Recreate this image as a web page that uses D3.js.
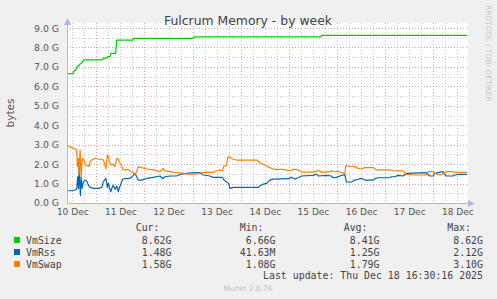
<!DOCTYPE html>
<html><head><meta charset="utf-8">
<script src="https://cdn.jsdelivr.net/npm/d3@7"></script>
<style>
html,body{margin:0;padding:0;background:#F0F0F0;}
svg{display:block;}
</style></head>
<body>
<svg id="c" width="497" height="299"></svg>
<script>
// ---- data (time = hours after 2025-12-10 00:00, values in GB) ----
const title = "Fulcrum Memory - by week";
const seriesNames = ["VmSize", "VmRss", "VmSwap"];
const seriesColors = ["#00CC00", "#0066B3", "#FF8000"];
const yTickValues = [0,1,2,3,4,5,6,7,8,9];
const dayLabels = ["10 Dec","11 Dec","12 Dec","13 Dec","14 Dec","15 Dec","16 Dec","17 Dec","18 Dec"];
const statHeaders = ["Cur:", "Min:", "Avg:", "Max:"];
const statsVmSize = ["8.62G", "6.66G", "8.41G", "8.62G"];
const statsVmRss  = ["1.48G", "41.63M", "1.25G", "2.12G"];
const statsVmSwap = ["1.58G", "1.08G", "1.79G", "3.10G"];
const lastUpdate = "Last update: Thu Dec 18 16:30:16 2025";

const sizeT = [9.4,12.4,12.9,13.8,14.5,15.4,15.9,16.9,17.7,26.8,27.3,29.2,29.7,30.8,31.3,33.6,34.2,42.1,42.8,72.3,72.8,135.9,136.4,208.8];
const sizeV = [6.66,6.66,6.80,6.85,7.03,7.08,7.15,7.22,7.36,7.36,7.45,7.45,7.53,7.53,7.70,7.70,8.38,8.38,8.47,8.47,8.55,8.55,8.62,8.62];

const rssT = [9.4,11.7,13.4,14.2,14.7,15.1,15.4,15.7,16.1,16.4,16.9,17.6,18.4,19.2,20.0,20.9,22.5,25.0,26.7,27.5,28.8,29.5,30.0,30.5,31.2,31.7,32.5,33.3,34.2,35.0,35.5,36.1,37.1,38.3,40.0,41.6,42.5,43.3,44.1,44.9,46.6,49.1,52.4,55.7,57.1,58.2,60.7,64.0,66.5,69.0,72.3,75.7,77.3,80.6,82.3,86.9,87.6,89.9,90.6,92.3,95.6,104.7,105.5,107.2,108.9,110.5,112.2,119.6,121.3,123.0,124.6,126.3,132.1,133.8,134.6,138.7,141.2,142.1,143.7,145.4,147.9,148.7,151.2,152.8,154.5,156.2,157.8,162.0,163.3,164.5,170.3,171.1,172.8,174.4,176.9,178.6,188.5,190.2,191.9,192.7,196.8,197.6,198.5,201.8,202.6,205.1,208.8];
const rssV = [0.63,0.63,0.67,0.70,1.35,0.75,1.90,1.01,0.38,1.35,0.75,1.10,1.18,1.13,0.92,0.80,0.75,0.75,0.80,1.10,1.27,0.80,1.01,0.80,0.58,0.75,0.92,0.70,0.87,0.58,0.80,0.92,1.22,1.25,1.25,1.32,1.44,1.52,1.35,1.18,1.18,1.27,1.32,1.39,1.25,1.35,1.39,1.39,1.49,1.52,1.56,1.56,1.44,1.39,1.32,1.32,1.18,1.01,0.75,0.80,0.80,0.80,0.87,0.97,1.01,1.18,1.23,1.25,1.32,1.23,1.30,1.39,1.42,1.49,1.39,1.42,1.39,1.30,1.32,1.39,1.46,1.08,1.08,1.18,1.22,1.27,1.18,1.18,1.27,1.30,1.30,1.35,1.35,1.42,1.39,1.52,1.56,1.39,1.39,1.52,1.61,1.49,1.39,1.39,1.44,1.47,1.47];

const swapT = [9.4,11.2,13.4,14.2,14.6,15.1,15.4,15.9,16.4,16.9,17.2,17.9,18.9,20.5,20.9,21.7,23.4,25.0,26.7,27.5,28.3,28.8,29.5,30.0,30.5,31.7,32.5,33.3,34.2,35.0,35.8,36.6,37.1,38.3,40.0,41.6,42.5,43.3,44.1,44.9,46.6,49.1,52.4,55.7,57.4,58.2,60.7,63.2,67.4,69.0,74.0,76.5,79.0,82.3,84.0,85.6,86.9,87.6,88.9,89.6,90.6,92.3,93.9,104.2,105.5,107.2,108.9,110.5,112.2,113.8,117.2,119.6,121.3,122.1,123.8,125.5,126.3,132.1,133.8,135.4,136.2,140.4,141.2,142.9,144.5,146.2,147.9,148.4,150.4,152.8,154.5,156.2,157.8,162.0,163.6,170.3,171.9,173.6,176.9,178.6,183.6,188.5,189.4,191.9,193.5,196.0,198.5,201.8,202.6,208.8];
const swapV = [2.97,2.86,2.79,2.73,1.87,2.30,1.44,2.73,1.35,2.13,2.30,2.18,1.92,1.90,2.13,2.21,2.30,2.25,2.25,2.21,1.95,1.75,2.47,2.38,2.13,1.95,2.00,1.87,2.30,2.25,2.04,1.95,1.73,1.70,1.70,1.61,1.56,1.47,1.61,1.87,1.82,1.75,1.70,1.61,1.78,1.65,1.61,1.56,1.54,1.49,1.49,1.56,1.59,1.58,1.66,1.70,1.66,1.90,1.92,2.38,2.35,2.25,2.21,2.21,2.07,1.99,1.90,1.82,1.75,1.73,1.73,1.68,1.66,1.73,1.73,1.65,1.59,1.59,1.65,1.65,1.58,1.61,1.66,1.61,1.63,1.56,1.52,1.92,1.89,1.87,1.78,1.75,1.82,1.82,1.70,1.70,1.66,1.65,1.65,1.47,1.44,1.44,1.61,1.61,1.49,1.44,1.61,1.61,1.58,1.58];

// ---- drawing ----
const svg = d3.select("#c");
const T0 = new Date(2025, 11, 10, 0, 0, 0).getTime();
const toDate = h => new Date(T0 + h * 3600e3);
const L = 67, R = 467, TOP = 23, BOT = 203;

const x = d3.scaleTime().domain([toDate(9.38), toDate(208.8)]).range([L, R]);
const y = d3.scaleLinear().domain([0, 9.26]).range([BOT, TOP]);

svg.append("rect").attr("x", L).attr("y", TOP).attr("width", R - L + 1).attr("height", BOT - TOP).attr("fill", "#fff");

const g = svg.append("g");
// minor grid
const minorY = d3.range(0.5, 9.26, 1);
g.selectAll(".my").data(minorY).join("line")
  .attr("x1", L).attr("x2", R).attr("y1", d => Math.round(y(d)) + 0.5).attr("y2", d => Math.round(y(d)) + 0.5)
  .attr("stroke", "#c8c8c8").attr("stroke-dasharray", "1,2");
const sixH = d3.timeHour.every(6).range(x.domain()[0], x.domain()[1]).filter(d => d.getHours() !== 0);
g.selectAll(".mx").data(sixH).join("line")
  .attr("y1", TOP).attr("y2", BOT).attr("x1", d => Math.round(x(d)) + 0.5).attr("x2", d => Math.round(x(d)) + 0.5)
  .attr("stroke", "#c8c8c8").attr("stroke-dasharray", "1,2");
// major grid
g.selectAll(".My").data(yTickValues.slice(1)).join("line")
  .attr("x1", L).attr("x2", R).attr("y1", d => Math.round(y(d)) + 0.5).attr("y2", d => Math.round(y(d)) + 0.5)
  .attr("stroke", "#e4a0a0").attr("stroke-dasharray", "1,2");
const days = d3.timeDay.range(x.domain()[0], x.domain()[1]);
g.selectAll(".Mx").data(days).join("line")
  .attr("y1", TOP).attr("y2", BOT + 1).attr("x1", d => Math.round(x(d)) + 0.5).attr("x2", d => Math.round(x(d)) + 0.5)
  .attr("stroke", "#e4a0a0").attr("stroke-dasharray", "1,2");

// axes labels
const yAxis = d3.axisLeft(y).tickValues(yTickValues).tickFormat(d => d.toFixed(1) + " G").tickSize(0).tickPadding(8);
const ya = svg.append("g").attr("transform", `translate(${L},0)`).call(yAxis);
ya.select(".domain").remove();
ya.selectAll("text").attr("font-family", "DejaVu Sans").attr("font-size", 9.3).attr("fill", "#555");

const noon = dayLabels.map((d, i) => toDate(i * 24 + 12));
const xAxis = d3.axisBottom(x).tickValues(noon).tickFormat((d, i) => dayLabels[i]).tickSize(0).tickPadding(6);
const xa = svg.append("g").attr("transform", `translate(0,${BOT})`).call(xAxis);
xa.select(".domain").remove();
xa.selectAll("text").attr("font-family", "DejaVu Sans").attr("font-size", 9).attr("fill", "#555");

// lines
const line = d3.line().x(d => x(toDate(d[0]))).y(d => y(d[1]));
const series = [
  d3.zip(sizeT, sizeV),
  d3.zip(rssT, rssV),
  d3.zip(swapT, swapV)
];
series.forEach((s, i) => {
  svg.append("path").datum(s).attr("d", line).attr("fill", "none")
    .attr("stroke", seriesColors[i]).attr("stroke-width", 1.2).attr("stroke-linejoin", "round");
});

// axis lines with arrows
const axc = "#b4b4ec";
svg.append("line").attr("x1", L + 0.5).attr("x2", L + 0.5).attr("y1", BOT).attr("y2", 20).attr("stroke", axc);
svg.append("line").attr("x1", L).attr("x2", 471).attr("y1", BOT + 0.5).attr("y2", BOT + 0.5).attr("stroke", axc);
svg.append("path").attr("d", `M${L - 3},${25}L${L + 0.5},${18}L${L + 4},${25}Z`).attr("fill", axc);
svg.append("path").attr("d", `M${468},${BOT - 3}L${475},${BOT + 0.5}L${468},${BOT + 4}Z`).attr("fill", axc);

// title & labels
svg.append("text").attr("x", 248).attr("y", 24.5).attr("text-anchor", "middle")
  .attr("font-family", "DejaVu Sans").attr("font-size", 12.4).attr("fill", "#444").text(title);
svg.append("text").attr("transform", "translate(13.5,113) rotate(-90)").attr("text-anchor", "middle")
  .attr("font-family", "DejaVu Sans").attr("font-size", 10.5).attr("fill", "#555").text("bytes");
svg.append("text").attr("transform", "translate(485.5,5) rotate(90)").attr("text-anchor", "start")
  .attr("font-family", "DejaVu Sans").attr("font-size", 7.5).attr("fill", "#c8c8c8").text("RRDTOOL / TOBI OETIKER");

// legend
const mono = "DejaVu Sans Mono";
const fs = 9.9;
const headerEnds = [159.5, 263.5, 367.5, 471];
const valueEnds = [171.5, 275.5, 379.5, 483];
statHeaders.forEach((h, i) => {
  svg.append("text").attr("x", headerEnds[i]).attr("y", 231).attr("text-anchor", "end")
    .attr("font-family", mono).attr("font-size", fs).attr("fill", "#444").text(h);
});
const allStats = [statsVmSize, statsVmRss, statsVmSwap];
seriesNames.forEach((n, r) => {
  const yy = 243.5 + r * 12;
  svg.append("rect").attr("x", 14).attr("y", yy - 6.5).attr("width", 6).attr("height", 6).attr("fill", seriesColors[r]);
  svg.append("text").attr("x", 26).attr("y", yy).attr("font-family", mono).attr("font-size", fs).attr("fill", "#444").text(n);
  allStats[r].forEach((v, i) => {
    svg.append("text").attr("x", valueEnds[i]).attr("y", yy).attr("text-anchor", "end")
      .attr("font-family", mono).attr("font-size", fs).attr("fill", "#444").text(v);
  });
});
svg.append("text").attr("x", 483).attr("y", 279).attr("text-anchor", "end")
  .attr("font-family", mono).attr("font-size", fs).attr("fill", "#444").text(lastUpdate);
svg.append("text").attr("x", 248).attr("y", 291).attr("text-anchor", "middle")
  .attr("font-family", "DejaVu Sans").attr("font-size", 7.5).attr("fill", "#c0c0c0").text("Munin 2.0.76");
</script>
</body></html>
